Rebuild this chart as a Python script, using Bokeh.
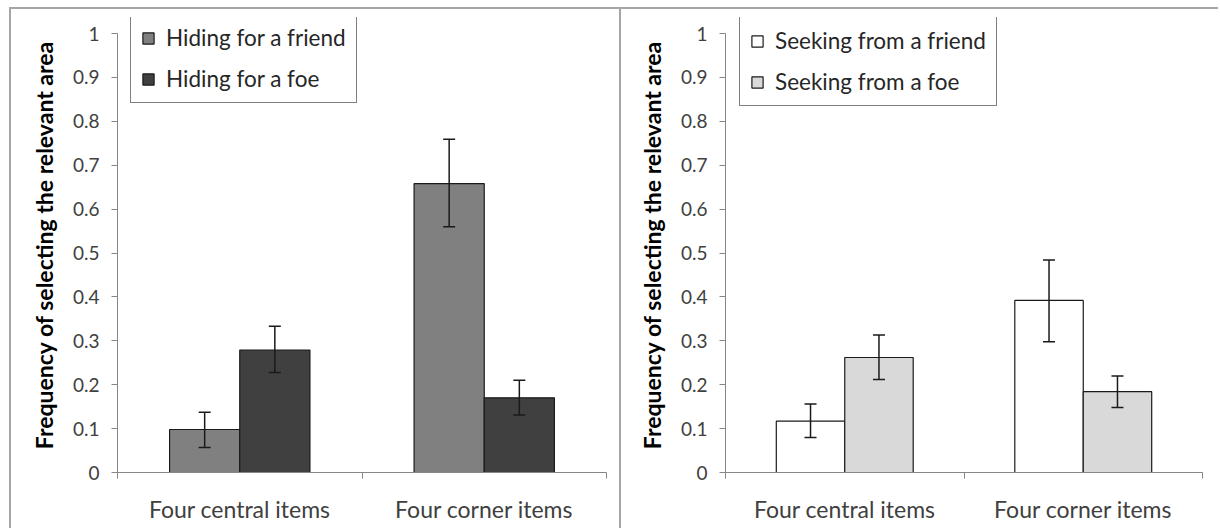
from bokeh.plotting import figure
from bokeh.models import (ColumnDataSource, Range1d, FixedTicker, Whisker, TeeHead,
                          Legend, LegendItem)
from bokeh.layouts import row
from bokeh.embed import file_html
from bokeh.resources import INLINE

categories = ["Four central items", "Four corner items"]
y_ticks = [0, 0.1, 0.2, 0.3, 0.4, 0.5, 0.6, 0.7, 0.8, 0.9, 1]
y_tick_labels = ["0", "0.1", "0.2", "0.3", "0.4", "0.5", "0.6", "0.7", "0.8", "0.9", "1"]

hide_friend = [0.098, 0.658]
hide_friend_lo = [0.057, 0.56]
hide_friend_hi = [0.137, 0.759]
hide_foe = [0.279, 0.17]
hide_foe_lo = [0.228, 0.131]
hide_foe_hi = [0.333, 0.21]

seek_friend = [0.117, 0.392]
seek_friend_lo = [0.08, 0.298]
seek_friend_hi = [0.156, 0.484]
seek_foe = [0.262, 0.184]
seek_foe_lo = [0.212, 0.148]
seek_foe_hi = [0.313, 0.22]

FONT = "Lato"
BAR_W = 0.287
AXIS_COLOR = "#868686"
TEXT_COLOR = "#404040"
BORDER = "#a6a6a6"
Y_TOP = 1 + 16 / 439  # head-room above 1 so the legend box fits in the frame


def border_css(left_px, top_px):
    g = "linear-gradient(%s, %s)" % (BORDER, BORDER)
    return {"background": (
        "%s %dpx %dpx / 2px calc(100%% - %dpx) no-repeat, "
        "%s %dpx %dpx / calc(100%% - %dpx) 2px no-repeat, white"
        % (g, left_px, top_px, top_px, g, left_px, top_px, left_px))}


def make_panel(series, width, min_left, min_right, legend_loc, css):
    p = figure(width=width, height=528, output_backend="svg", toolbar_location=None,
               x_range=Range1d(0, len(categories)), y_range=Range1d(0, Y_TOP),
               min_border_left=min_left, min_border_right=min_right,
               min_border_top=17, min_border_bottom=56)
    p.outline_line_color = None
    p.xgrid.grid_line_color = None
    p.ygrid.grid_line_color = None
    p.background_fill_color = None
    p.border_fill_color = None
    p.styles = css

    items = []
    n = len(series)
    for k, (name, vals, lo, hi, color) in enumerate(series):
        offset = (k - (n - 1) / 2) * BAR_W
        xs = [i + 0.5 + offset for i in range(len(categories))]
        src = ColumnDataSource(dict(x=xs, top=vals, lo=lo, hi=hi))
        r = p.vbar(x="x", top="top", width=BAR_W, source=src, fill_color=color,
                   line_color="#1a1a1a", line_width=1.2)
        w = Whisker(source=src, base="x", lower="lo", upper="hi", level="overlay",
                    line_color="#1a1a1a", line_width=1.5,
                    upper_head=TeeHead(size=12, line_color="#1a1a1a", line_width=1.5),
                    lower_head=TeeHead(size=12, line_color="#1a1a1a", line_width=1.5))
        p.add_layout(w)
        items.append(LegendItem(label=name, renderers=[r]))

    # y axis
    ya = p.yaxis[0]
    ya.bounds = (0, 1)
    ya.ticker = FixedTicker(ticks=y_ticks, minor_ticks=[])
    ya.major_label_overrides = {t: l for t, l in zip(y_ticks, y_tick_labels)}
    ya.axis_line_color = AXIS_COLOR
    ya.major_tick_line_color = AXIS_COLOR
    ya.major_tick_out = 6
    ya.major_tick_in = 0
    ya.major_label_text_font = FONT
    ya.major_label_text_font_size = "19px"
    ya.major_label_text_color = TEXT_COLOR
    ya.major_label_standoff = 12
    ya.axis_label = "Frequency of selecting the relevant area"
    ya.axis_label_text_font = FONT
    ya.axis_label_text_font_style = "bold"
    ya.axis_label_text_font_size = "23px"
    ya.axis_label_text_color = "black"
    ya.axis_label_standoff = 12

    # x axis: labels at category centres, ticks at category boundaries
    xa = p.xaxis[0]
    xa.ticker = FixedTicker(ticks=[i + 0.5 for i in range(len(categories))],
                            minor_ticks=list(range(len(categories) + 1)))
    xa.major_label_overrides = {i + 0.5: c for i, c in enumerate(categories)}
    xa.axis_line_color = AXIS_COLOR
    xa.major_tick_line_color = None
    xa.major_tick_out = 0
    xa.major_tick_in = 0
    xa.minor_tick_line_color = AXIS_COLOR
    xa.minor_tick_out = 6
    xa.minor_tick_in = 0
    xa.major_label_text_font = FONT
    xa.major_label_text_font_size = "23px"
    xa.major_label_text_color = TEXT_COLOR
    xa.major_label_standoff = 16

    legend = Legend(items=items, location=legend_loc,
                    border_line_color="black", border_line_width=1,
                    background_fill_color="white", background_fill_alpha=1,
                    label_text_font=FONT, label_text_font_size="22.5px",
                    label_text_color="#262626",
                    glyph_width=14, glyph_height=14, label_height=22,
                    label_standoff=11, spacing=14, padding=10, margin=0)
    p.add_layout(legend, "center")
    return p


left = make_panel([
    ("Hiding for a friend", hide_friend, hide_friend_lo, hide_friend_hi, "#808080"),
    ("Hiding for a foe", hide_foe, hide_foe_lo, hide_foe_hi, "#404040"),
], width=619, min_left=117, min_right=13, legend_loc=(13, 369),
   css=border_css(9, 7))

right = make_panel([
    ("Seeking from a friend", seek_friend, seek_friend_lo, seek_friend_hi, "#ffffff"),
    ("Seeking from a foe", seek_foe, seek_foe_lo, seek_foe_hi, "#d9d9d9"),
], width=599, min_left=106, min_right=16, legend_loc=(14, 366),
   css=border_css(0, 7))

layout = row(left, right, spacing=0)

open("out.html", "w").write(file_html(layout, INLINE))
